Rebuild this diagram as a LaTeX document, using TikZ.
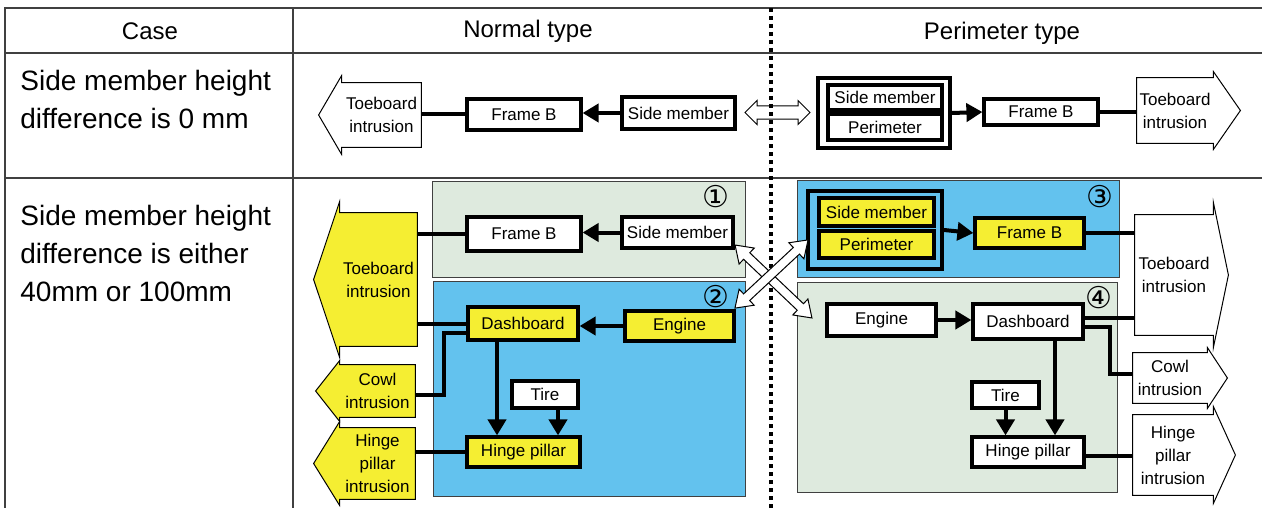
\documentclass[tikz,border=0pt]{standalone}
\usepackage{fontspec}
\setmainfont{Liberation Sans}
\newfontfamily\circfont{DejaVu Sans}
\usetikzlibrary{arrows.meta,calc,backgrounds}

\definecolor{paleg}{RGB}{222,234,222}
\definecolor{skyb}{RGB}{99,194,238}
\definecolor{yel}{RGB}{245,238,50}
\definecolor{rule}{RGB}{64,64,64}

\tikzset{
  part/.style={draw, line width=1.6pt, fill=white, inner sep=0pt, font=\fontsize{8.5}{11}\selectfont},
  hot/.style={part, fill=yel},
  sz/.style 2 args={minimum width=#1*0.5pt, minimum height=#2*0.5pt},
  intr/.style={inner sep=0pt, align=center, font=\fontsize{8.5}{11.5}\selectfont},
  link/.style={line width=2pt},
  flow/.style={link, -{Triangle[length=8pt,width=9pt]}},
  rim/.style={draw=black, line width=0.5pt},
  tabline/.style={draw=rule, line width=0.8pt},
  casetext/.style={font=\fontsize{14}{19}\selectfont, align=left, inner sep=0pt},
  hdr/.style={font=\fontsize{12}{14}\selectfont, inner sep=0pt},
  circnum/.style={font=\circfont\fontsize{15}{15}\selectfont, inner sep=0pt},
  pics/twoway/.style n args={5}{code={
    \draw[rim, fill=#5] (-#1,0) -- (-#1+#4,-#3) -- (-#1+#4,-#2) -- (#1-#4,-#2) -- (#1-#4,-#3) -- (#1,0)
      -- (#1-#4,#3) -- (#1-#4,#2) -- (-#1+#4,#2) -- (-#1+#4,#3) -- cycle;}},
}

% intrusion arrows drawn round a text node: node, head length, head extend, fill
\newcommand\outL[4]{\draw[rim, fill=#4] (#1.north east) -- (#1.north west) -- ++(0,-#3)
  -- ($(#1.west)+(-#2,0)$) -- ($(#1.south west)+(0,#3)$) -- (#1.south west) -- (#1.south east) -- cycle;}
\newcommand\outR[4]{\draw[rim, fill=#4] (#1.north west) -- (#1.north east) -- ++(0,-#3)
  -- ($(#1.east)+(#2,0)$) -- ($(#1.south east)+(0,#3)$) -- (#1.south east) -- (#1.south west) -- cycle;}

\begin{document}
\begin{tikzpicture}[x=0.5pt, y=-0.5pt]
\useasboundingbox (0,0) rectangle (1262,508);

% panels
\begin{scope}[on background layer]
\draw[rim, draw=rule, fill=paleg] (432,181) rectangle (745,277);
\draw[rim, draw=rule, fill=skyb] (433,281) rectangle (745,496);
\draw[rim, draw=rule, fill=skyb] (797,180) rectangle (1119,277);
\draw[rim, draw=rule, fill=paleg] (797,282) rectangle (1117,492);
\end{scope}

% table
\draw[tabline] (5,508) -- (5,8) -- (1262,8);
\draw[tabline] (293,8) -- (293,508);
\draw[tabline] (5,53) -- (1262,53);
\draw[tabline] (5,178) -- (1262,178);
\draw[line width=2pt, dash pattern=on 2pt off 2pt] (771,8) -- (771,508);

\node[hdr] (hcase) at (150,31) {Case};
\node[hdr] (hnorm) at (528,31) {Normal type};
\node[hdr] (hperi) at (1002,33) {Perimeter type};
\node[casetext, anchor=west] (case1) at (20,99) {Side member height\\difference is 0 mm};
\node[casetext, anchor=west] (case2) at (20,253) {Side member height\\difference is either\\40mm or 100mm};

% row 1, normal type
\node[intr, sz={79}{64}] (ntoe1) at (381.5,115) {Toeboard\\intrusion};
\node[part, sz={114}{31}] (nframe1) at (524,114.5) {Frame B};
\node[part, sz={113}{32}] (nside1) at (678.5,113) {Side member};
\draw[flow] (nside1.west) -- (nside1.west -| nframe1.east);
\draw[link] (nframe1.west) -- (nframe1.west -| ntoe1.east);

\pic (swap1) at (777.5,112.5) {twoway={32.5}{6.5}{12}{12}{none}};

% row 1, perimeter type
\node[part, line width=2pt, sz={132}{70}] (pouter1) at (884,113) {};
\node[part, sz={114}{25}] (pside1) at (885,97.5) {Side member};
\node[part, sz={114}{26}] (pperi1) at (885,127) {Perimeter};
\node[part, sz={114}{26}] (pframe1) at (1041,112) {Frame B};
\node[intr, sz={76}{65}] (ptoe1) at (1175,110.5) {Toeboard\\intrusion};
\draw[flow] (pouter1.east) -- (pframe1.west);
\draw[link] (pframe1.east) -- (pframe1.east -| ptoe1.west);

% row 2, normal type
\node[circnum] (num1) at (716,197) {①};
\node[circnum] (num2) at (716,297) {②};
\node[part, sz={114}{34}] (nframe2) at (524,234) {Frame B};
\node[part, sz={111}{31}] (nside2) at (677.5,232.5) {Side member};
\node[hot, sz={110}{33}] (ndash) at (523,323.5) {Dashboard};
\node[hot, sz={109}{30}] (neng) at (679.5,326) {Engine};
\node[part, sz={66}{27}] (ntire) at (545,394.5) {Tire};
\node[hot, sz={113}{30}] (nhinge) at (523.5,452) {Hinge pillar};
\node[intr, sz={77}{133}] (ntoe2) at (378.5,279.5) {Toeboard\\intrusion};
\node[intr, sz={75}{52}] (ncowl) at (377.5,391) {Cowl\\intrusion};
\node[intr, sz={75}{71}] (nhout) at (377.5,463.5) {Hinge\\pillar\\intrusion};
\draw[flow] (nside2.west) -- (nside2.west -| nframe2.east);
\draw[link] (nframe2.west) -- (nframe2.west -| ntoe2.east);
\draw[flow] (neng.west) -- (neng.west -| ndash.east);
\draw[link] (ndash.west) -- (ndash.west -| ntoe2.east);
\draw[link] ([yshift=-4.5pt]ndash.west) -- ++(-22,0) |- ([yshift=-2pt]ncowl.east);
\draw[flow] ([xshift=-13pt]ndash.south) -- ([xshift=-13pt]ndash.south |- nhinge.north);
\draw[flow] ([xshift=6.5pt]ntire.south) -- ([xshift=6.5pt]ntire.south |- nhinge.north);
\draw[link] (nhinge.west) -- (nhinge.west -| nhout.east);

% row 2, perimeter type
\node[circnum] (num3) at (1100,197) {③};
\node[circnum] (num4) at (1099,298) {④};
\node[part, line width=2pt, fill=skyb, sz={134}{78}] (pouter2) at (875,230) {};
\node[hot, sz={115}{28}] (pside2) at (876.5,212) {Side member};
\node[hot, sz={115}{27}] (pperi2) at (876.5,244.5) {Perimeter};
\node[hot, sz={109}{30}] (pframe2) at (1029.5,233) {Frame B};
\node[intr, sz={78}{120}] (ptoe2) at (1174,275) {Toeboard\\intrusion};
\node[part, sz={109}{32}] (peng) at (881.5,320) {Engine};
\node[part, sz={110}{35}] (pdash) at (1028,321.5) {Dashboard};
\node[part, sz={67}{26}] (ptire) at (1005.5,395) {Tire};
\node[part, sz={112}{30}] (phinge) at (1028,452) {Hinge pillar};
\node[intr, sz={74}{50}] (pcowl) at (1170,378) {Cowl\\intrusion};
\node[intr, sz={80}{80}] (phout) at (1173,455) {Hinge\\pillar\\intrusion};
\draw[flow] (pouter2.east) -- (pframe2.west);
\draw[link] (pframe2.east) -- (pframe2.east -| ptoe2.west);
\draw[flow] (peng.east) -- (peng.east -| pdash.west);
\draw[link] ([yshift=2pt]pdash.east) -- ([yshift=2pt]pdash.east -| ptoe2.west);
\draw[link] ([yshift=-2.5pt]pdash.east) -- ++(25,0) |- ([yshift=2pt]pcowl.west);
\draw[flow] ([xshift=13.5pt]pdash.south) -- ([xshift=13.5pt]pdash.south |- phinge.north);
\draw[flow] (ptire.south) -- (ptire.south |- phinge.north);
\draw[link] ([yshift=-2pt]phinge.east) -- ([yshift=-2pt]phinge.east -| phout.west);

% crossing arrows
\pic[rotate=-43.5] (swap2) at (773.5,281.5) {twoway={53}{4.5}{11}{16}{white}};
\pic[rotate=43] (swap3) at (771.5,274) {twoway={50}{4.5}{11}{16}{white}};

% intrusion outlines
\begin{scope}[on background layer]
\outL{ntoe1}{23}{7}{white}
\outR{ptoe1}{27}{6}{white}
\outL{ntoe2}{26}{11}{yel}
\outL{ncowl}{24}{4}{yel}
\outL{nhout}{26}{6}{yel}
\outR{ptoe2}{15}{12}{white}
\outR{pcowl}{20}{5}{white}
\outR{phout}{22}{8}{white}
\end{scope}
\end{tikzpicture}
\end{document}
